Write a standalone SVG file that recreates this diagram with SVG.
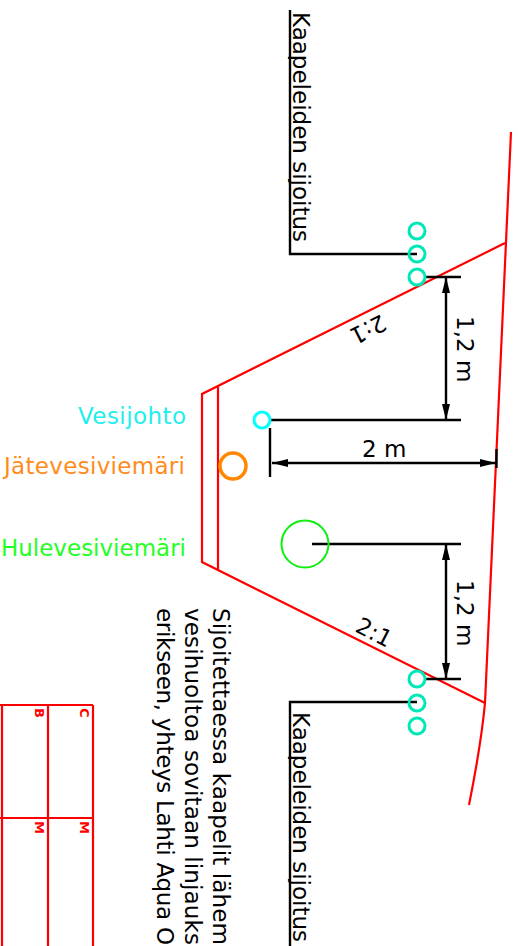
<svg xmlns="http://www.w3.org/2000/svg" width="518" height="946" viewBox="0 0 518 946">
<style>
text{font-family:"DejaVu Sans","Liberation Sans",sans-serif;font-size:23px;fill:#000}
.lbl{text-anchor:end}
.r{fill:none;stroke:#f00;stroke-width:2.2}
.k{fill:none;stroke:#000;stroke-width:2.4}
.c{fill:none;stroke:#00e8b8;stroke-width:3}
.t{font-size:13px;font-weight:bold;fill:#f00}
</style>
<defs>
<marker id="ah" markerWidth="16" markerHeight="8" refX="16" refY="4" orient="auto-start-reverse" markerUnits="userSpaceOnUse"><path d="M0,0L16,4L0,8Z" fill="#000"/></marker>
</defs>
<rect width="518" height="946" fill="#fff"/>
<g id="profile">
<path class="r" d="M505,243L202,394V562L485,703"/>
<path class="r" d="M218,387V570"/>
<path class="r" d="M511,132L497,440L485,703Q481,745 469,805"/>
</g>
<g id="table">
<path class="r" d="M2,705V946M48,705V946M93,705V946M0,705H93M0,818H93"/>
<text class="t" transform="translate(80,708) rotate(90)">C</text>
<text class="t" transform="translate(35,708) rotate(90)">B</text>
<text class="t" transform="translate(80,821) rotate(90)">M</text>
<text class="t" transform="translate(35,821) rotate(90)">M</text>
</g>
<g id="connectors">
<path class="k" d="M290,10V254H417M290,946V702H417"/>
<path class="k" d="M424,277H461M270,420H461M312,544H461M424,679H461M270,428V477M496.5,449V468"/>
<path class="k" marker-start="url(#ah)" marker-end="url(#ah)" d="M446,277V420"/>
<path class="k" marker-start="url(#ah)" marker-end="url(#ah)" d="M446,544V679"/>
<path class="k" marker-start="url(#ah)" marker-end="url(#ah)" d="M272,463H496"/>
</g>
<g id="cables-top"><circle class="c" cx="417" cy="231" r="8"/><circle class="c" cx="417" cy="254" r="8"/><circle class="c" cx="417" cy="277" r="8"/></g>
<g id="cables-bottom"><circle class="c" cx="417" cy="679" r="8"/><circle class="c" cx="417" cy="703" r="8"/><circle class="c" cx="417" cy="726" r="8"/></g>
<g id="vesijohto"><circle cx="262" cy="420" r="8" fill="none" stroke="#0ff" stroke-width="3"/><text class="lbl" x="186" y="424" textLength="108" style="fill:#2ee">Vesijohto</text></g>
<g id="jatevesi"><circle cx="233" cy="466" r="13" fill="none" stroke="#f80" stroke-width="3.5"/><text class="lbl" x="185" y="474" textLength="181" style="fill:#ff8c1a">Jätevesiviemäri</text></g>
<g id="hulevesi"><circle cx="305" cy="544" r="23.5" fill="none" stroke="#1e1" stroke-width="2"/><text class="lbl" x="186" y="556" style="fill:#2f2">Hulevesiviemäri</text></g>
<g id="labels">
<text transform="translate(293,12) rotate(90)">Kaapeleiden sijoitus</text>
<text transform="translate(293,712) rotate(90)">Kaapeleiden sijoitus</text>
<text transform="translate(213,608) rotate(90)" textLength="337">Sijoitettaessa kaapelit lähem</text>
<text transform="translate(185,608) rotate(90)" textLength="337">vesihuoltoa sovitaan linjauks</text>
<text transform="translate(157,608) rotate(90)" textLength="337">erikseen, yhteys Lahti Aqua O</text>
<text transform="translate(457,316) rotate(90)">1,2 m</text>
<text transform="translate(457,580) rotate(90)">1,2 m</text>
<text x="362" y="457">2 m</text>
<text transform="translate(381,314) rotate(153.4)">2:1</text>
<text transform="translate(354,631) rotate(27)">2:1</text>
</g>
</svg>
